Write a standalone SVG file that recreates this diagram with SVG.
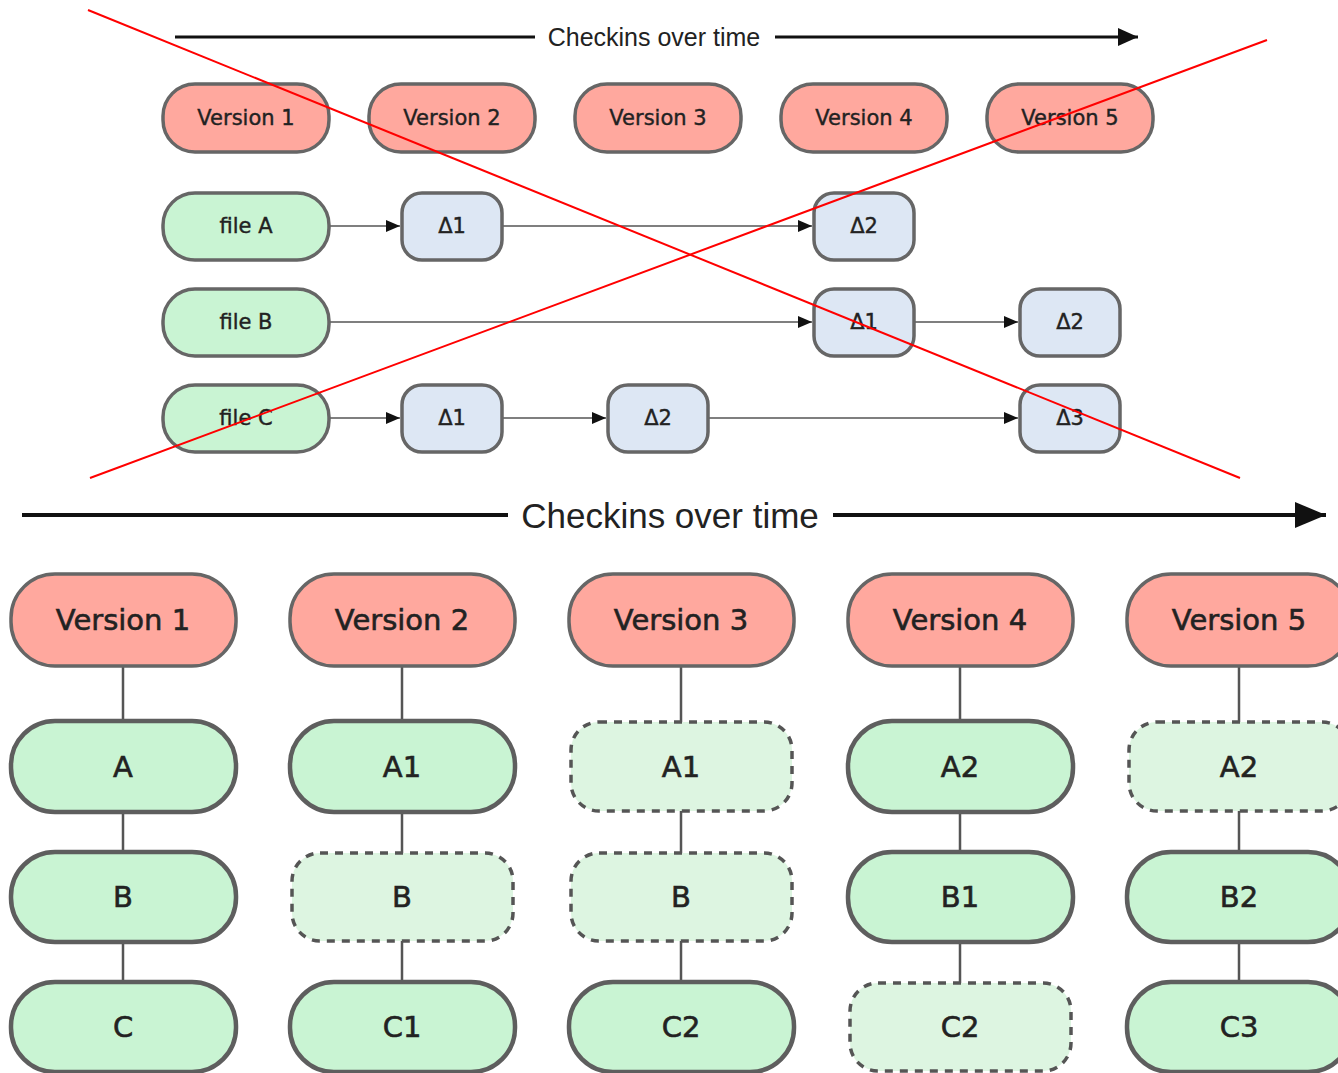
<svg xmlns="http://www.w3.org/2000/svg" width="1338" height="1073" viewBox="0 0 1338 1073">
  <style>
    .ver { fill: #FFA89E; stroke: #666666; stroke-width: 3.5; }
    .file { fill: #C9F4D3; stroke: #666666; stroke-width: 3.5; }
    .delta { fill: #DDE7F4; stroke: #666666; stroke-width: 3.5; }
    .snap { fill: #C9F4D3; stroke: #5E5E5E; stroke-width: 4.5; }
    .ref { fill: #DDF5E1; stroke: #555555; stroke-width: 3.5; stroke-dasharray: 8 7; }
    .lbl { font-family: "DejaVu Sans", Verdana, sans-serif; fill: #222222; stroke: #222222; text-anchor: middle; dominant-baseline: central; }
    .s { font-size: 21px; stroke-width: 0.4; }
    .l { font-size: 29px; stroke-width: 0.6; }
    .hdr { font-family: "Liberation Sans", Arial, sans-serif; fill: #222222; text-anchor: middle; dominant-baseline: central; }
    .edge { stroke: #555555; stroke-width: 1.6; fill: none; }
    .tree { stroke: #555555; stroke-width: 2.5; fill: none; }
    .time { stroke: #111111; fill: none; }
    .cross { stroke: #FF0000; stroke-width: 2; fill: none; }
  </style>
  <defs>
    <marker id="ah" markerUnits="userSpaceOnUse" markerWidth="16" markerHeight="14" refX="14" refY="6" orient="auto">
      <path d="M0,0 L14,6 L0,12 z" fill="#111111"/>
    </marker>
    <marker id="tl1" markerUnits="userSpaceOnUse" markerWidth="22" markerHeight="20" refX="20" refY="9" orient="auto">
      <path d="M0,0 L20,9 L0,18 z" fill="#111111"/>
    </marker>
    <marker id="tl2" markerUnits="userSpaceOnUse" markerWidth="34" markerHeight="28" refX="31" refY="13" orient="auto">
      <path d="M0,0 L31,13 L0,26 z" fill="#111111"/>
    </marker>
  </defs>
  <rect width="1338" height="1073" fill="#FFFFFF"/>

  <!-- delta storage: time axis -->
  <g id="axis-top">
    <path class="time" stroke-width="3" d="M175,37 H535"/>
    <path class="time" stroke-width="3" d="M775,37 H1138" marker-end="url(#tl1)"/>
    <text class="hdr" x="654" y="37" font-size="25">Checkins over time</text>
  </g>

  <!-- delta storage: connectors -->
  <g id="edges-top">
    <path class="edge" d="M329,226 H400" marker-end="url(#ah)"/>
    <path class="edge" d="M502,226 H812" marker-end="url(#ah)"/>
    <path class="edge" d="M329,322 H812" marker-end="url(#ah)"/>
    <path class="edge" d="M914,322 H1018" marker-end="url(#ah)"/>
    <path class="edge" d="M329,418 H400" marker-end="url(#ah)"/>
    <path class="edge" d="M502,418 H606" marker-end="url(#ah)"/>
    <path class="edge" d="M708,418 H1018" marker-end="url(#ah)"/>
  </g>

  <!-- delta storage: versions -->
  <g id="tv1"><rect class="ver" x="163" y="84" width="166" height="68" rx="32"/><text class="lbl s" x="246" y="118">Version 1</text></g>
  <g id="tv2"><rect class="ver" x="369" y="84" width="166" height="68" rx="32"/><text class="lbl s" x="452" y="118">Version 2</text></g>
  <g id="tv3"><rect class="ver" x="575" y="84" width="166" height="68" rx="32"/><text class="lbl s" x="658" y="118">Version 3</text></g>
  <g id="tv4"><rect class="ver" x="781" y="84" width="166" height="68" rx="32"/><text class="lbl s" x="864" y="118">Version 4</text></g>
  <g id="tv5"><rect class="ver" x="987" y="84" width="166" height="68" rx="32"/><text class="lbl s" x="1070" y="118">Version 5</text></g>

  <!-- delta storage: files and deltas -->
  <g id="fileA"><rect class="file" x="163" y="193" width="166" height="67" rx="32"/><text class="lbl s" x="246" y="226">file A</text></g>
  <g id="a-d1"><rect class="delta" x="402" y="193" width="100" height="67" rx="20"/><text class="lbl s" x="452" y="226">Δ1</text></g>
  <g id="a-d2"><rect class="delta" x="814" y="193" width="100" height="67" rx="20"/><text class="lbl s" x="864" y="226">Δ2</text></g>

  <g id="fileB"><rect class="file" x="163" y="289" width="166" height="67" rx="32"/><text class="lbl s" x="246" y="322">file B</text></g>
  <g id="b-d1"><rect class="delta" x="814" y="289" width="100" height="67" rx="20"/><text class="lbl s" x="864" y="322">Δ1</text></g>
  <g id="b-d2"><rect class="delta" x="1020" y="289" width="100" height="67" rx="20"/><text class="lbl s" x="1070" y="322">Δ2</text></g>

  <g id="fileC"><rect class="file" x="163" y="385" width="166" height="67" rx="32"/><text class="lbl s" x="246" y="418">file C</text></g>
  <g id="c-d1"><rect class="delta" x="402" y="385" width="100" height="67" rx="20"/><text class="lbl s" x="452" y="418">Δ1</text></g>
  <g id="c-d2"><rect class="delta" x="608" y="385" width="100" height="67" rx="20"/><text class="lbl s" x="658" y="418">Δ2</text></g>
  <g id="c-d3"><rect class="delta" x="1020" y="385" width="100" height="67" rx="20"/><text class="lbl s" x="1070" y="418">Δ3</text></g>

  <!-- snapshot storage: time axis -->
  <g id="axis-bottom">
    <path class="time" stroke-width="4" d="M22,515 H508"/>
    <path class="time" stroke-width="4" d="M833,515 H1326" marker-end="url(#tl2)"/>
    <text class="hdr" x="670" y="515" font-size="35">Checkins over time</text>
  </g>

  <!-- snapshot storage: connectors -->
  <g id="edges-bottom">
    <path class="tree" d="M123,666 V1000"/>
    <path class="tree" d="M402,666 V1000"/>
    <path class="tree" d="M681,666 V1000"/>
    <path class="tree" d="M960,666 V1000"/>
    <path class="tree" d="M1239,666 V1000"/>
  </g>

  <!-- snapshot storage: versions -->
  <g id="bv1"><rect class="ver" x="11" y="574" width="225" height="92" rx="44" stroke-width="4.5"/><text class="lbl l" x="123" y="620">Version 1</text></g>
  <g id="bv2"><rect class="ver" x="290" y="574" width="225" height="92" rx="44" stroke-width="4.5"/><text class="lbl l" x="402" y="620">Version 2</text></g>
  <g id="bv3"><rect class="ver" x="569" y="574" width="225" height="92" rx="44" stroke-width="4.5"/><text class="lbl l" x="681" y="620">Version 3</text></g>
  <g id="bv4"><rect class="ver" x="848" y="574" width="225" height="92" rx="44" stroke-width="4.5"/><text class="lbl l" x="960" y="620">Version 4</text></g>
  <g id="bv5"><rect class="ver" x="1127" y="574" width="225" height="92" rx="44" stroke-width="4.5"/><text class="lbl l" x="1239" y="620">Version 5</text></g>

  <!-- snapshot storage: version 1 -->
  <g id="v1-A"><rect class="snap" x="11" y="721" width="225" height="91" rx="44"/><text class="lbl l" x="123" y="767">A</text></g>
  <g id="v1-B"><rect class="snap" x="11" y="852" width="225" height="90" rx="44"/><text class="lbl l" x="123" y="897">B</text></g>
  <g id="v1-C"><rect class="snap" x="11" y="982" width="225" height="90" rx="44"/><text class="lbl l" x="123" y="1027">C</text></g>

  <!-- snapshot storage: version 2 -->
  <g id="v2-A1"><rect class="snap" x="290" y="721" width="225" height="91" rx="44"/><text class="lbl l" x="402" y="767">A1</text></g>
  <g id="v2-B"><rect class="ref" x="292" y="853" width="221" height="88" rx="28"/><text class="lbl l" x="402" y="897">B</text></g>
  <g id="v2-C1"><rect class="snap" x="290" y="982" width="225" height="90" rx="44"/><text class="lbl l" x="402" y="1027">C1</text></g>

  <!-- snapshot storage: version 3 -->
  <g id="v3-A1"><rect class="ref" x="571" y="722" width="221" height="89" rx="28"/><text class="lbl l" x="681" y="767">A1</text></g>
  <g id="v3-B"><rect class="ref" x="571" y="853" width="221" height="88" rx="28"/><text class="lbl l" x="681" y="897">B</text></g>
  <g id="v3-C2"><rect class="snap" x="569" y="982" width="225" height="90" rx="44"/><text class="lbl l" x="681" y="1027">C2</text></g>

  <!-- snapshot storage: version 4 -->
  <g id="v4-A2"><rect class="snap" x="848" y="721" width="225" height="91" rx="44"/><text class="lbl l" x="960" y="767">A2</text></g>
  <g id="v4-B1"><rect class="snap" x="848" y="852" width="225" height="90" rx="44"/><text class="lbl l" x="960" y="897">B1</text></g>
  <g id="v4-C2"><rect class="ref" x="850" y="983" width="221" height="88" rx="28"/><text class="lbl l" x="960" y="1027">C2</text></g>

  <!-- snapshot storage: version 5 -->
  <g id="v5-A2"><rect class="ref" x="1129" y="722" width="221" height="89" rx="28"/><text class="lbl l" x="1239" y="767">A2</text></g>
  <g id="v5-B2"><rect class="snap" x="1127" y="852" width="225" height="90" rx="44"/><text class="lbl l" x="1239" y="897">B2</text></g>
  <g id="v5-C3"><rect class="snap" x="1127" y="982" width="225" height="90" rx="44"/><text class="lbl l" x="1239" y="1027">C3</text></g>

  <!-- strike-through over the delta model -->
  <g id="cross">
    <line class="cross" x1="88" y1="10" x2="1240" y2="478"/>
    <line class="cross" x1="90" y1="478" x2="1267" y2="40"/>
  </g>
</svg>
